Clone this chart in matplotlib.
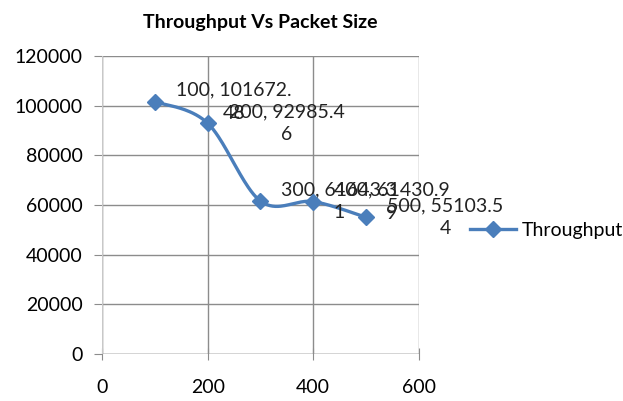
import numpy as np
import matplotlib.pyplot as plt

packet_size = [100, 200, 300, 400, 500]
throughput = [101672.48, 92985.46, 61643.31, 61430.99, 55103.54]
y_ticks = [0, 20000, 40000, 60000, 80000, 100000, 120000]
x_ticks = [0, 200, 400, 600]

plt.rcParams['font.family'] = ['Lato', 'DejaVu Sans']
blue = '#4a7ebb'
grid = '#8c8c8c'


def smooth(xs, ys, n=40):
    # Excel style smoothed line: cubic bezier with Catmull-Rom tangents
    xs = np.asarray(xs, float)
    ys = np.asarray(ys, float)
    px, py = [], []
    for i in range(len(xs) - 1):
        i0, i3 = max(i - 1, 0), min(i + 2, len(xs) - 1)
        c1x = xs[i] + (xs[i + 1] - xs[i0]) / 6
        c1y = ys[i] + (ys[i + 1] - ys[i0]) / 6
        c2x = xs[i + 1] - (xs[i3] - xs[i]) / 6
        c2y = ys[i + 1] - (ys[i3] - ys[i]) / 6
        t = np.linspace(0, 1, n)
        px.extend((1-t)**3*xs[i] + 3*(1-t)**2*t*c1x + 3*(1-t)*t**2*c2x + t**3*xs[i+1])
        py.extend((1-t)**3*ys[i] + 3*(1-t)**2*t*c1y + 3*(1-t)*t**2*c2y + t**3*ys[i+1])
    return px, py


fig = plt.figure(figsize=(6.23, 4.01), dpi=100)
ax = fig.add_axes([0.164, 0.117, 0.508, 0.743])

sx, sy = smooth(packet_size, throughput)
ax.plot(sx, sy, color=blue, lw=2.4, zorder=3)
ax.plot(packet_size, throughput, ls='none', marker='D', ms=8, color=blue, zorder=4)
ax.plot([], [], color=blue, lw=2.4, marker='D', ms=8, label='Throughput')

ax.set_xlim(0, 600)
ax.set_ylim(0, 120000)
ax.set_xticks(x_ticks)
ax.set_yticks(y_ticks)
ax.grid(True, color=grid, lw=1)
ax.set_axisbelow(True)
for s in ax.spines.values():
    s.set_visible(False)
ax.axhline(0, color=grid, lw=1, zorder=1)
ax.axvline(0, color='#c8c8c8', lw=1, zorder=1)
ax.tick_params(axis='y', length=6, color=grid, labelsize=14, pad=8)
ax.tick_params(axis='x', length=8, color=grid, labelsize=14, pad=14, direction='inout')

# data labels, wrapped after 12 characters like the Excel chart
labels = [f'{x}, {y:.2f}' for x, y in zip(packet_size, throughput)]
for x, y, lab in zip(packet_size, throughput, labels):
    txt = lab[:12] + '\n' + lab[12:]
    ax.annotate(txt, (x, y), xytext=(21, 0), textcoords='offset pixels',
                ha='left', va='center', multialignment='center',
                fontsize=14, color='#222222', linespacing=1.45,
                annotation_clip=False)

ax.set_title('Throughput Vs Packet Size', fontsize=14, fontweight='bold', pad=20)
ax.title.set_position((0.5, 1))

fig.legend(loc='center left', bbox_to_anchor=(0.754, 0.426), frameon=False,
           fontsize=14, handlelength=2.4, handletextpad=0.3,
           borderpad=0, borderaxespad=0)

fig.savefig('out.png', dpi=100)
